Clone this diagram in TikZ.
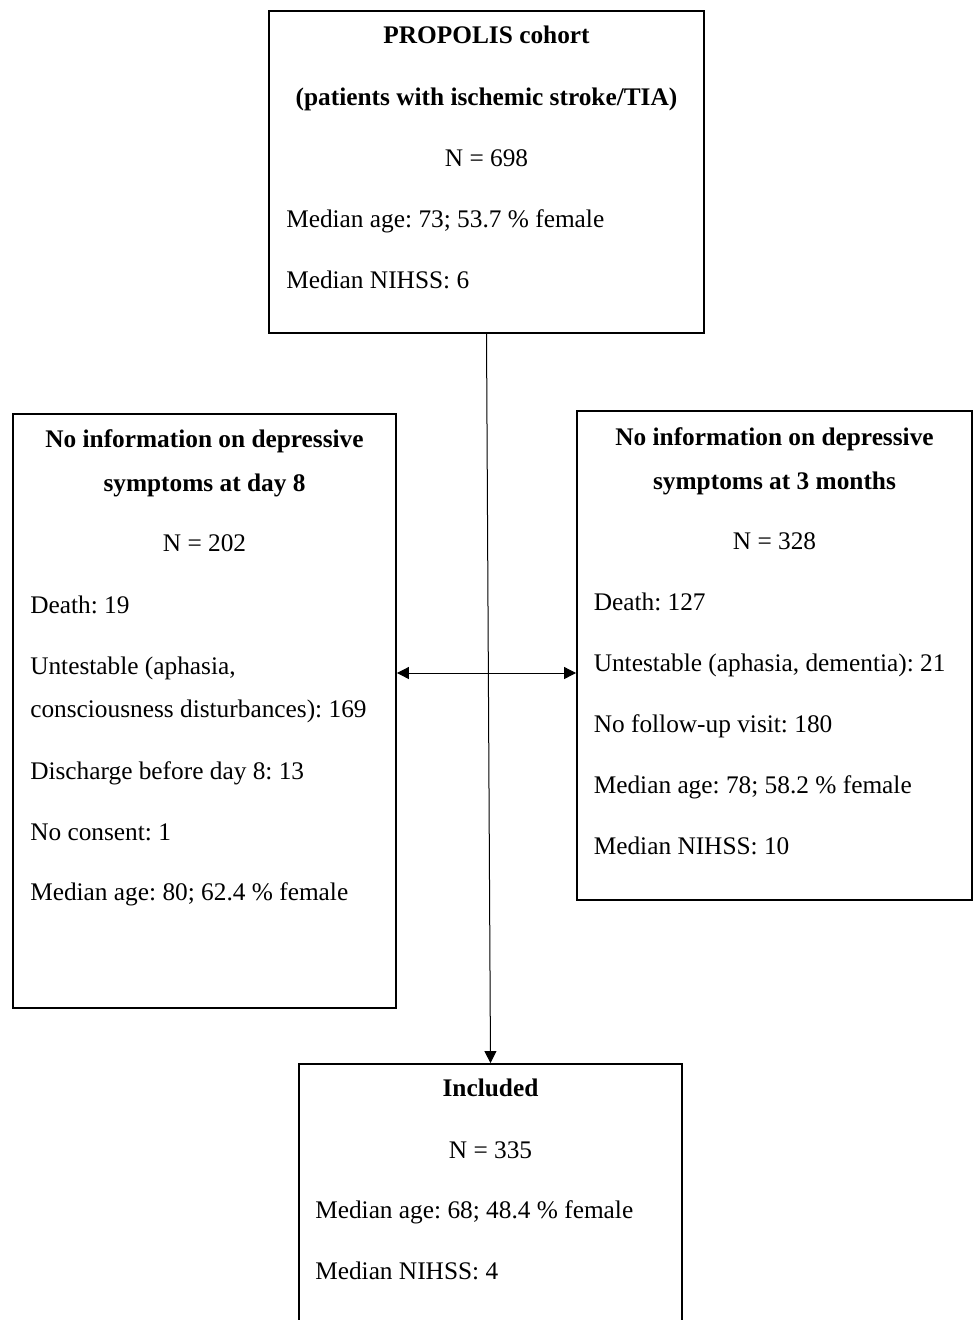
\documentclass[tikz,border=0pt]{standalone}
\usepackage{fontspec}
\setmainfont{Liberation Serif}
\usetikzlibrary{arrows.meta}

\tikzset{
  box/.style={draw, line width=1.4pt, inner sep=0pt},
  txt/.style={anchor=base west, inner sep=0pt, font=\fontsize{19}{23}\selectfont},
  ctr/.style={anchor=base, inner sep=0pt, font=\fontsize{19}{23}\selectfont},
  hd/.style={anchor=base, inner sep=0pt, font=\fontsize{19}{23}\selectfont\bfseries},
  flow/.style={line width=0.75pt, -{Triangle[length=9pt,width=9pt]}},
  twoway/.style={line width=0.75pt, {Triangle[length=9pt,width=9pt]}-{Triangle[length=9pt,width=9pt]}}
}

\begin{document}
\frenchspacing
\begin{tikzpicture}[x=0.75pt, y=-0.75pt]
  \useasboundingbox (0,0) rectangle (973,1320);

  \node[box, minimum width=326.25pt, minimum height=241.5pt] (cohort) at (486.5,172) {};
  \node[box, minimum width=287.25pt, minimum height=445.5pt] (day8) at (204.5,711) {};
  \node[box, minimum width=296.25pt, minimum height=366.75pt] (month3) at (774.5,655.5) {};
  \node[box, minimum width=287.25pt, minimum height=210pt] (included) at (490.5,1204) {};

  % cohort
  \draw (486.5,44) node (c_title) [hd] {PROPOLIS cohort};
  \draw (486.5,105) node (c_sub) [hd] {(patients with ischemic stroke/TIA)};
  \draw (486.5,166.5) node (c_n) [ctr] {N = 698};
  \draw (286,227.5) node (c_age) [txt] {Median age: 73; 53.7 \% female};
  \draw (286,288) node (c_nihss) [txt] {Median NIHSS: 6};

  % day 8
  \draw (204.5,447) node (d_title) [hd] {No information on depressive};
  \draw (204.5,491) node (d_sub) [hd] {symptoms at day 8};
  \draw (204.5,551.5) node (d_n) [ctr] {N = 202};
  \draw (30,613) node (d_death) [txt] {Death: 19};
  \draw (30,674) node (d_untest) [txt] {Untestable (aphasia,};
  \draw (30,717.5) node (d_untest2) [txt] {consciousness disturbances): 169};
  \draw (30,779) node (d_disch) [txt] {Discharge before day 8: 13};
  \draw (30,840) node (d_consent) [txt] {No consent: 1};
  \draw (30,900.5) node (d_age) [txt] {Median age: 80; 62.4 \% female};

  % 3 months
  \draw (774.5,445) node (m_title) [hd] {No information on depressive};
  \draw (774.5,489) node (m_sub) [hd] {symptoms at 3 months};
  \draw (774.5,549) node (m_n) [ctr] {N = 328};
  \draw (593.5,610) node (m_death) [txt] {Death: 127};
  \draw (593.5,671) node (m_untest) [txt] {Untestable (aphasia, dementia): 21};
  \draw (593.5,732) node (m_visit) [txt] {No follow-up visit: 180};
  \draw (593.5,793) node (m_age) [txt] {Median age: 78; 58.2 \% female};
  \draw (593.5,854) node (m_nihss) [txt] {Median NIHSS: 10};

  % included
  \draw (490.5,1096.5) node (i_title) [hd] {Included};
  \draw (490.5,1158) node (i_n) [ctr] {N = 335};
  \draw (315,1218.5) node (i_age) [txt] {Median age: 68; 48.4 \% female};
  \draw (315,1279) node (i_nihss) [txt] {Median NIHSS: 4};

  \coordinate (cross) at (486,673);
  \draw[flow] (cohort.south) -- (included.north);
  \draw[twoway] (cross -| day8.east) -- (cross -| month3.west);
\end{tikzpicture}
\end{document}
